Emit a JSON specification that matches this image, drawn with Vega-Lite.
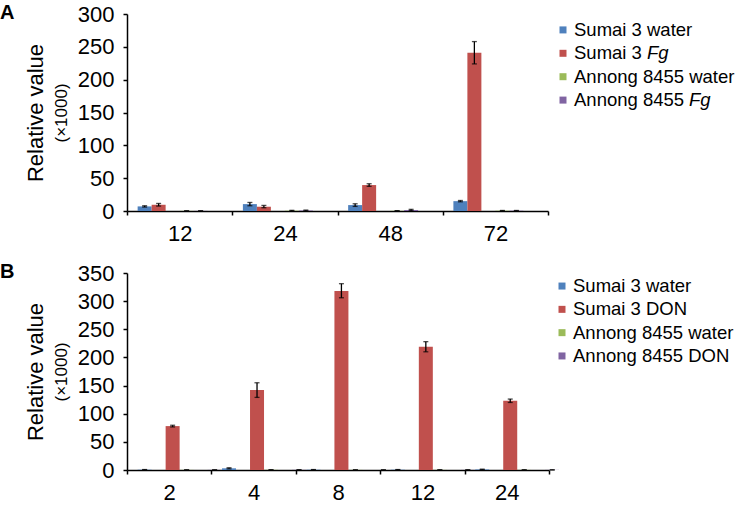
{
  "$schema": "https://vega.github.io/schema/vega-lite/v6.json",
  "padding": {"left": 0, "top": 3, "right": 0, "bottom": 0},
  "background": "white",
  "spacing": 18,
  "resolve": {"scale": {"color": "independent"}},
  "config": {
    "font": "Liberation Sans",
    "view": {"stroke": null},
    "axis": {"grid": false, "domainColor": "black", "tickColor": "black", "labelColor": "black", "titleColor": "black", "domainWidth": 1.5, "tickWidth": 1.5, "labelFont": "Liberation Sans", "titleFont": "Liberation Sans", "titleFontWeight": "normal"},
    "text": {"font": "Liberation Sans", "color": "black"},
    "title": {"font": "Liberation Sans", "color": "black"}
  },
  "datasets": {
    "a": [
      {"time": "12", "series": "Sumai 3 water", "value": 7, "lo": 6, "hi": 8},
      {"time": "12", "series": "Sumai 3 Fg", "value": 9.5, "lo": 7.5, "hi": 11.5},
      {"time": "12", "series": "Annong 8455 water", "value": 0.2, "lo": 0.1, "hi": 0.3},
      {"time": "12", "series": "Annong 8455 Fg", "value": 0.2, "lo": 0.1, "hi": 0.3},
      {"time": "24", "series": "Sumai 3 water", "value": 10.5, "lo": 8, "hi": 13},
      {"time": "24", "series": "Sumai 3 Fg", "value": 6.5, "lo": 5, "hi": 8.5},
      {"time": "24", "series": "Annong 8455 water", "value": 0.5, "lo": 0, "hi": 1},
      {"time": "24", "series": "Annong 8455 Fg", "value": 0.8, "lo": 0.2, "hi": 1.4},
      {"time": "48", "series": "Sumai 3 water", "value": 9, "lo": 7, "hi": 11},
      {"time": "48", "series": "Sumai 3 Fg", "value": 39.5, "lo": 37.5, "hi": 41.5},
      {"time": "48", "series": "Annong 8455 water", "value": 0.3, "lo": 0.1, "hi": 0.5},
      {"time": "48", "series": "Annong 8455 Fg", "value": 1.5, "lo": 0.5, "hi": 2.5},
      {"time": "72", "series": "Sumai 3 water", "value": 15, "lo": 14, "hi": 16},
      {"time": "72", "series": "Sumai 3 Fg", "value": 241, "lo": 224, "hi": 258},
      {"time": "72", "series": "Annong 8455 water", "value": 0.5, "lo": 0.2, "hi": 0.8},
      {"time": "72", "series": "Annong 8455 Fg", "value": 0.5, "lo": 0.2, "hi": 0.8}
    ],
    "b": [
      {"time": "2", "series": "Sumai 3 water", "value": 0.5, "lo": 0.2, "hi": 0.8},
      {"time": "2", "series": "Sumai 3 DON", "value": 78, "lo": 76.5, "hi": 79.5},
      {"time": "2", "series": "Annong 8455 water", "value": 0.2, "lo": 0.1, "hi": 0.3},
      {"time": "2", "series": "Annong 8455 DON", "value": 0.2, "lo": 0.1, "hi": 0.3},
      {"time": "4", "series": "Sumai 3 water", "value": 3, "lo": 2, "hi": 4},
      {"time": "4", "series": "Sumai 3 DON", "value": 142, "lo": 129, "hi": 155},
      {"time": "4", "series": "Annong 8455 water", "value": 0.3, "lo": 0.1, "hi": 0.5},
      {"time": "4", "series": "Annong 8455 DON", "value": 0.3, "lo": 0.1, "hi": 0.5},
      {"time": "8", "series": "Sumai 3 water", "value": 0.5, "lo": 0.2, "hi": 0.8},
      {"time": "8", "series": "Sumai 3 DON", "value": 318, "lo": 306, "hi": 331},
      {"time": "8", "series": "Annong 8455 water", "value": 0.2, "lo": 0.1, "hi": 0.3},
      {"time": "8", "series": "Annong 8455 DON", "value": 0.2, "lo": 0.1, "hi": 0.3},
      {"time": "12", "series": "Sumai 3 water", "value": 0.5, "lo": 0.2, "hi": 0.8},
      {"time": "12", "series": "Sumai 3 DON", "value": 219, "lo": 210, "hi": 228},
      {"time": "12", "series": "Annong 8455 water", "value": 0.2, "lo": 0.1, "hi": 0.3},
      {"time": "12", "series": "Annong 8455 DON", "value": 0.2, "lo": 0.1, "hi": 0.3},
      {"time": "24", "series": "Sumai 3 water", "value": 1, "lo": 0.5, "hi": 1.5},
      {"time": "24", "series": "Sumai 3 DON", "value": 123, "lo": 120, "hi": 126},
      {"time": "24", "series": "Annong 8455 water", "value": 0.2, "lo": 0.1, "hi": 0.3},
      {"time": "24", "series": "Annong 8455 DON", "value": 0.2, "lo": 0.1, "hi": 0.3}
    ],
    "la": [
      {"key": "Sumai 3 water", "main": "Sumai 3 water", "ital": ""},
      {"key": "Sumai 3 Fg", "main": "Sumai 3", "ital": "Fg"},
      {"key": "Annong 8455 water", "main": "Annong 8455 water", "ital": ""},
      {"key": "Annong 8455 Fg", "main": "Annong 8455", "ital": "Fg"}
    ],
    "lb": [
      {"key": "Sumai 3 water", "main": "Sumai 3 water"},
      {"key": "Sumai 3 DON", "main": "Sumai 3 DON"},
      {"key": "Annong 8455 water", "main": "Annong 8455 water"},
      {"key": "Annong 8455 DON", "main": "Annong 8455 DON"}
    ]
  },
  "vconcat": [
    {
      "spacing": 10,
      "resolve": {"scale": {"color": "independent"}},
      "hconcat": [
        {
          "width": 421,
          "height": 197,
          "title": {"text": "A", "anchor": "start", "frame": "bounds", "fontSize": 20, "fontWeight": "bold", "offset": -20, "dx": -24},
          "data": {"name": "a"},
          "encoding": {
            "x": {"field": "time", "type": "ordinal", "sort": null, "scale": {"paddingInner": 0, "paddingOuter": 0},
              "axis": {"title": null, "labelAngle": 0, "tickBand": "extent", "tickSize": 4, "labelFontSize": 22, "labelPadding": 8}},
            "xOffset": {"field": "series", "type": "nominal", "sort": ["Sumai 3 water", "Sumai 3 Fg", "Annong 8455 water", "Annong 8455 Fg"], "scale": {"paddingInner": 0, "paddingOuter": 0.76}}
          },
          "resolve": {"axis": {"y": "independent"}},
          "layer": [
            {
              "mark": {"type": "bar"},
              "encoding": {
                "y": {"field": "value", "type": "quantitative", "scale": {"domain": [0, 300]},
                  "axis": {"orient": "left", "title": "(×1000)", "titleFontSize": 17, "titlePadding": 7, "values": [0, 50, 100, 150, 200, 250, 300], "tickSize": 4, "labelPadding": 9, "labelFontSize": 22}},
                "color": {"field": "series", "type": "nominal", "scale": {"domain": ["Sumai 3 water", "Sumai 3 Fg", "Annong 8455 water", "Annong 8455 Fg"], "range": ["#4F81BD", "#C0504D", "#9BBB59", "#8064A2"]}, "legend": null}
              }
            },
            {
              "mark": {"type": "rule", "color": "black", "strokeWidth": 1.3},
              "encoding": {
                "y": {"field": "lo", "type": "quantitative", "axis": {"orient": "left", "title": "Relative value", "titleFontSize": 22, "titlePadding": 80, "labels": false, "ticks": false, "domain": false}},
                "y2": {"field": "hi"}
              }
            },
            {
              "mark": {"type": "tick", "color": "black", "size": 5, "thickness": 1.3},
              "encoding": {"y": {"field": "lo", "type": "quantitative", "axis": null}}
            },
            {
              "mark": {"type": "tick", "color": "black", "size": 5, "thickness": 1.3},
              "encoding": {"y": {"field": "hi", "type": "quantitative", "axis": null}}
            }
          ]
        },
        {
          "width": 170,
          "height": 102,
          "data": {"name": "la"},
          "encoding": {
            "y": {"field": "key", "type": "nominal", "sort": ["Sumai 3 water", "Sumai 3 Fg", "Annong 8455 water", "Annong 8455 Fg"], "scale": {"type": "point", "padding": 0.68}, "axis": null},
            "x": {"datum": 0, "type": "quantitative", "scale": {"domain": [0, 1]}, "axis": null}
          },
          "layer": [
            {
              "mark": {"type": "square", "size": 49, "opacity": 1},
              "encoding": {"color": {"field": "key", "type": "nominal", "scale": {"domain": ["Sumai 3 water", "Sumai 3 Fg", "Annong 8455 water", "Annong 8455 Fg"], "range": ["#4F81BD", "#C0504D", "#9BBB59", "#8064A2"]}, "legend": null}}
            },
            {
              "mark": {"type": "text", "align": "left", "baseline": "middle", "dx": 11, "fontSize": 18.5},
              "encoding": {"text": {"field": "main"}}
            },
            {
              "transform": [{"filter": "datum.key == 'Sumai 3 Fg'"}],
              "mark": {"type": "text", "align": "left", "baseline": "middle", "dx": 84, "fontSize": 18.5, "fontStyle": "italic"},
              "encoding": {"text": {"field": "ital"}}
            },
            {
              "transform": [{"filter": "datum.key == 'Annong 8455 Fg'"}],
              "mark": {"type": "text", "align": "left", "baseline": "middle", "dx": 126, "fontSize": 18.5, "fontStyle": "italic"},
              "encoding": {"text": {"field": "ital"}}
            }
          ]
        }
      ]
    },
    {
      "spacing": -2,
      "resolve": {"scale": {"color": "independent"}},
      "hconcat": [
        {
          "width": 422,
          "height": 197,
          "title": {"text": "B", "anchor": "start", "frame": "bounds", "fontSize": 20, "fontWeight": "bold", "offset": -20, "dx": -24},
          "data": {"name": "b"},
          "encoding": {
            "x": {"field": "time", "type": "ordinal", "sort": null, "scale": {"paddingInner": 0, "paddingOuter": 0},
              "axis": {"title": null, "labelAngle": 0, "tickBand": "extent", "tickSize": 4, "labelFontSize": 22, "labelPadding": 8}},
            "xOffset": {"field": "series", "type": "nominal", "sort": ["Sumai 3 water", "Sumai 3 DON", "Annong 8455 water", "Annong 8455 DON"], "scale": {"paddingInner": 0, "paddingOuter": 0.8}}
          },
          "resolve": {"axis": {"y": "independent"}},
          "layer": [
            {
              "mark": {"type": "bar"},
              "encoding": {
                "y": {"field": "value", "type": "quantitative", "scale": {"domain": [0, 350]},
                  "axis": {"orient": "left", "title": "(×1000)", "titleFontSize": 17, "titlePadding": 7, "values": [0, 50, 100, 150, 200, 250, 300, 350], "tickSize": 4, "labelPadding": 9, "labelFontSize": 22}},
                "color": {"field": "series", "type": "nominal", "scale": {"domain": ["Sumai 3 water", "Sumai 3 DON", "Annong 8455 water", "Annong 8455 DON"], "range": ["#4F81BD", "#C0504D", "#9BBB59", "#8064A2"]}, "legend": null}
              }
            },
            {
              "mark": {"type": "rule", "color": "black", "strokeWidth": 1.3},
              "encoding": {
                "y": {"field": "lo", "type": "quantitative", "axis": {"orient": "left", "title": "Relative value", "titleFontSize": 22, "titlePadding": 80, "labels": false, "ticks": false, "domain": false}},
                "y2": {"field": "hi"}
              }
            },
            {
              "mark": {"type": "tick", "color": "black", "size": 5, "thickness": 1.3},
              "encoding": {"y": {"field": "lo", "type": "quantitative", "axis": null}}
            },
            {
              "mark": {"type": "tick", "color": "black", "size": 5, "thickness": 1.3},
              "encoding": {"y": {"field": "hi", "type": "quantitative", "axis": null}}
            }
          ]
        },
        {
          "width": 170,
          "height": 96,
          "data": {"name": "lb"},
          "encoding": {
            "y": {"field": "key", "type": "nominal", "sort": ["Sumai 3 water", "Sumai 3 DON", "Annong 8455 water", "Annong 8455 DON"], "scale": {"type": "point", "padding": 0.56}, "axis": null},
            "x": {"datum": 0, "type": "quantitative", "scale": {"domain": [0, 1]}, "axis": null}
          },
          "layer": [
            {
              "mark": {"type": "square", "size": 49, "opacity": 1},
              "encoding": {"color": {"field": "key", "type": "nominal", "scale": {"domain": ["Sumai 3 water", "Sumai 3 DON", "Annong 8455 water", "Annong 8455 DON"], "range": ["#4F81BD", "#C0504D", "#9BBB59", "#8064A2"]}, "legend": null}}
            },
            {
              "mark": {"type": "text", "align": "left", "baseline": "middle", "dx": 11, "fontSize": 18.5},
              "encoding": {"text": {"field": "main"}}
            }
          ]
        }
      ]
    }
  ]
}
